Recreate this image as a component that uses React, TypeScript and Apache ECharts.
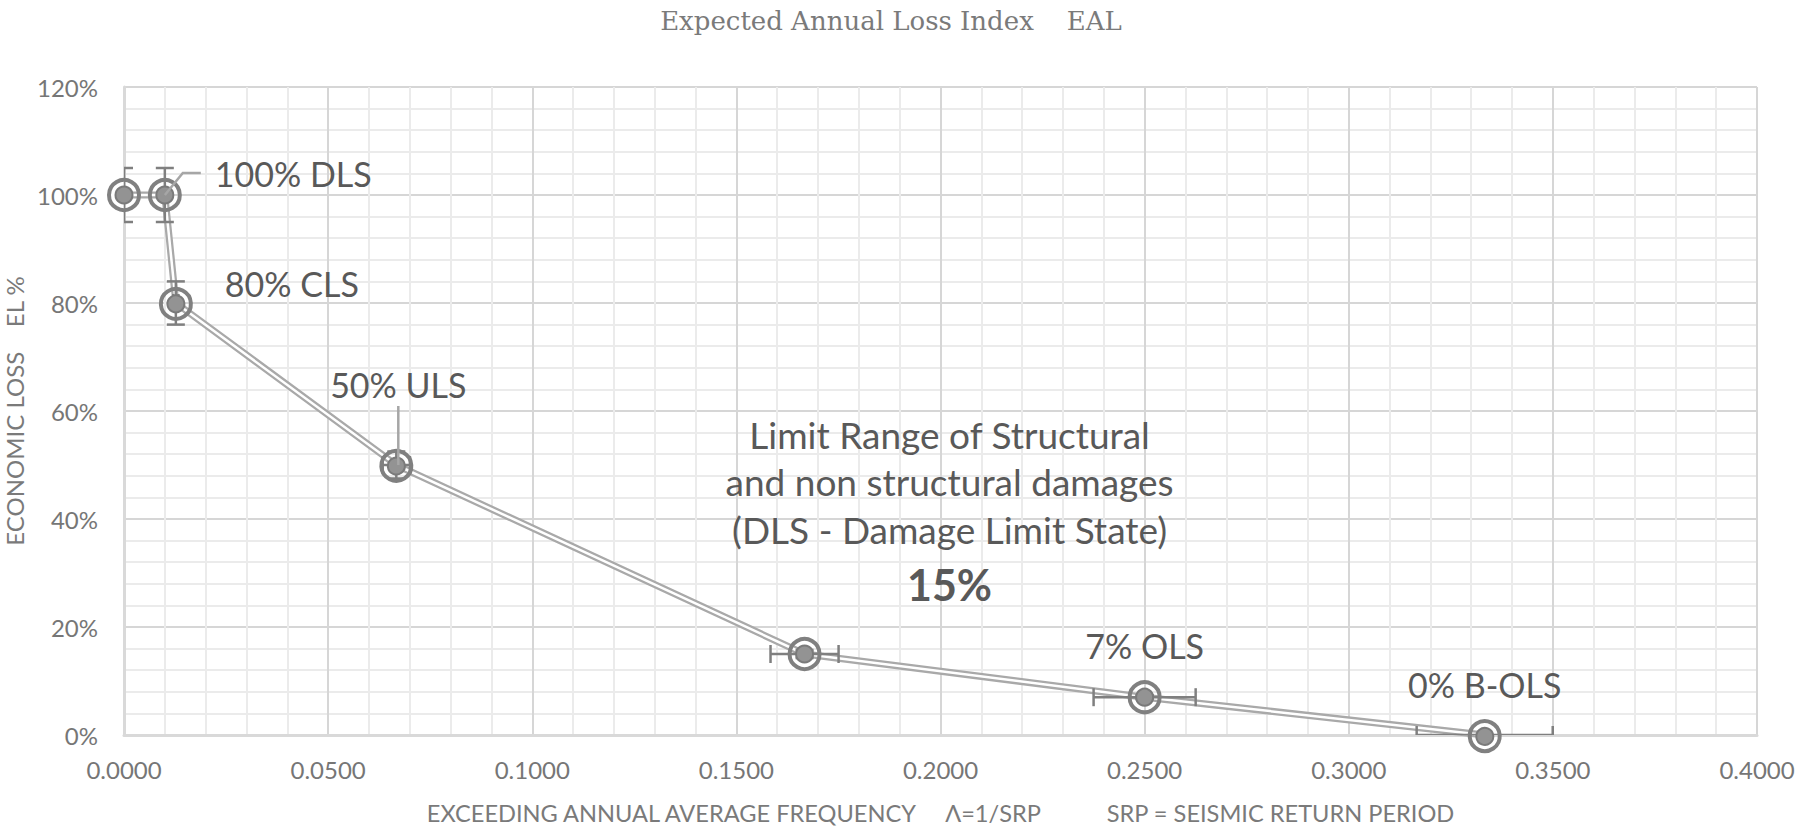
import React, { useEffect, useRef } from "react";
import * as echarts from "echarts";

// ---- data ----
const frequency = [0.0, 0.01, 0.0127, 0.0667, 0.1667, 0.25, 0.3333];
const economicLoss = [1.0, 1.0, 0.8, 0.5, 0.15, 0.07, 0.0];
const errorPercent = 0.05; // 5% error bars on both axes
const pointLabels = ["", "100% DLS", "80% CLS", "50% ULS", "", "7% OLS", "0% B-OLS"];
const noteLines = ["Limit Range of Structural", "and non structural damages", "(DLS - Damage Limit State)"];
const noteValue = "15%";
const noteIndex = 4;
const chartTitle = "Expected Annual Loss Index\u00a0\u00a0\u00a0\u00a0EAL";
const xTitle =
  "EXCEEDING ANNUAL AVERAGE FREQUENCY\u00a0\u00a0\u00a0\u00a0\u00a0\u039B=1/SRP" +
  "\u00a0\u00a0\u00a0\u00a0\u00a0\u00a0\u00a0\u00a0\u00a0\u00a0\u00a0SRP = SEISMIC RETURN PERIOD";
const yTitle = "ECONOMIC LOSS\u00a0\u00a0\u00a0\u00a0EL %";

// ---- label placement (pixel offsets from the point) ----
const labelOffsets: Record<number, { dx: number; dy: number; align: string; leader?: number[][] }> = {
  1: { dx: 50, dy: -22, align: "left", leader: [[0, 0], [18, -22], [36, -22]] },
  2: { dx: 116, dy: -20, align: "center" },
  3: { dx: 2, dy: -81, align: "center", leader: [[2, -59], [2, 0]] },
  5: { dx: 0, dy: -52, align: "center" },
  6: { dx: 0, dy: -51, align: "center" },
};
const noteOffset = { dx: 145, lineDy: [-220, -173, -125], valueDy: -70 };

const SANS = "Lato, 'Noto Sans', sans-serif";
const TEXT_DARK = "#595959";

const points = frequency.map((f, i) => [f, economicLoss[i], i]);

export default function App() {
  const ref = useRef<HTMLDivElement>(null);

  useEffect(() => {
    document.body.style.margin = "0";
    if (!ref.current) return;
    const chart = echarts.init(ref.current, undefined, { renderer: "svg" });

    const option: any = {
      animation: false,
      backgroundColor: "#ffffff",
      textStyle: { fontFamily: SANS },
      graphic: [
        {
          type: "text",
          x: 891,
          y: 21,
          style: {
            text: chartTitle,
            fill: "#7a7a7a",
            fontFamily: "'DejaVu Serif', serif",
            fontSize: 26,
            align: "center",
            verticalAlign: "middle",
          },
        },
      ],
      grid: {
        left: 124,
        right: 39,
        top: 87,
        bottom: 94,
        containLabel: false,
        outerBoundsMode: "none",
      },
      xAxis: {
        type: "value",
        min: 0,
        max: 0.4,
        interval: 0.05,
        name: xTitle,
        nameLocation: "middle",
        nameGap: 66,
        nameTextStyle: { fontFamily: SANS, fontSize: 23.6, color: "#7a7a7a" },
        axisLine: { show: true, lineStyle: { color: "#d9d9d9", width: 3 } },
        axisTick: { show: false },
        axisLabel: {
          margin: 22,
          fontFamily: SANS,
          fontSize: 24,
          color: "#767676",
          formatter: (v: number) => v.toFixed(4),
        },
        splitLine: { show: true, lineStyle: { color: "#d6d6d6", width: 2 } },
        minorTick: { show: false, splitNumber: 5 },
        minorSplitLine: { show: true, lineStyle: { color: "#ebebeb", width: 2 } },
      },
      yAxis: {
        type: "value",
        min: 0,
        max: 1.2,
        interval: 0.2,
        name: yTitle,
        nameLocation: "middle",
        nameGap: 101,
        nameTextStyle: { fontFamily: SANS, fontSize: 24, lineHeight: 18, color: "#7a7a7a" },
        axisLine: { show: true, lineStyle: { color: "#d9d9d9", width: 3 } },
        axisTick: { show: false },
        axisLabel: {
          margin: 26,
          fontFamily: SANS,
          fontSize: 24,
          color: "#767676",
          formatter: (v: number) => Math.round(v * 100) + "%",
        },
        splitLine: { show: true, lineStyle: { color: "#d6d6d6", width: 2 } },
        minorTick: { show: false, splitNumber: 5 },
        minorSplitLine: { show: true, lineStyle: { color: "#ebebeb", width: 2 } },
      },
      series: [
        {
          type: "line",
          data: points.map((p) => [p[0], p[1]]),
          symbol: "none",
          lineStyle: { color: "#a9a9a9", width: 7 },
          z: 2,
        },
        {
          type: "line",
          data: points.map((p) => [p[0], p[1]]),
          symbol: "none",
          lineStyle: { color: "#ffffff", width: 2.5 },
          z: 2,
        },
        {
          type: "custom",
          name: "errorBars",
          clip: true,
          z: 3,
          data: points,
          renderItem: (params: any, api: any) => {
            const x = api.value(0);
            const y = api.value(1);
            const c = api.coord([x, y]);
            const left = api.coord([x * (1 - errorPercent), y]);
            const right = api.coord([x * (1 + errorPercent), y]);
            const top = api.coord([x, y * (1 + errorPercent)]);
            const bottom = api.coord([x, y * (1 - errorPercent)]);
            const cap = 9;
            const gx = params.coordSys.x;
            const st = { stroke: "#7f7f7f", lineWidth: 2.5 };
            const children: any[] = [];
            if (right[0] - left[0] > 1) {
              children.push({ type: "line", shape: { x1: left[0], y1: c[1], x2: right[0], y2: c[1] }, style: st });
              children.push({ type: "line", shape: { x1: left[0], y1: c[1] - cap, x2: left[0], y2: c[1] + cap }, style: st });
              children.push({ type: "line", shape: { x1: right[0], y1: c[1] - cap, x2: right[0], y2: c[1] + cap }, style: st });
            }
            if (bottom[1] - top[1] > 1) {
              const l = Math.max(c[0] - cap, gx);
              children.push({ type: "line", shape: { x1: c[0], y1: top[1], x2: c[0], y2: bottom[1] }, style: st });
              children.push({ type: "line", shape: { x1: l, y1: top[1], x2: c[0] + cap, y2: top[1] }, style: st });
              children.push({ type: "line", shape: { x1: l, y1: bottom[1], x2: c[0] + cap, y2: bottom[1] }, style: st });
            }
            return { type: "group", children };
          },
        },
        {
          type: "custom",
          name: "markers",
          clip: false,
          z: 4,
          data: points,
          renderItem: (params: any, api: any) => {
            const c = api.coord([api.value(0), api.value(1)]);
            return {
              type: "group",
              children: [
                {
                  type: "circle",
                  shape: { cx: c[0], cy: c[1], r: 15 },
                  style: { fill: "none", stroke: "#808080", lineWidth: 4 },
                },
                {
                  type: "circle",
                  shape: { cx: c[0], cy: c[1], r: 8.5 },
                  style: { fill: "#939393", stroke: "#7a7a7a", lineWidth: 2 },
                },
              ],
            };
          },
        },
        {
          type: "custom",
          name: "labels",
          clip: false,
          z: 5,
          data: points,
          renderItem: (params: any, api: any) => {
            const i = api.value(2);
            const c = api.coord([api.value(0), api.value(1)]);
            const children: any[] = [];
            const lo = labelOffsets[i];
            if (lo && pointLabels[i]) {
              if (lo.leader) {
                children.push({
                  type: "polyline",
                  shape: { points: lo.leader.map((q) => [c[0] + q[0], c[1] + q[1]]) },
                  style: { stroke: "#a6a6a6", lineWidth: 2.5, fill: null },
                });
              }
              children.push({
                type: "text",
                x: c[0] + lo.dx,
                y: c[1] + lo.dy,
                style: {
                  text: pointLabels[i],
                  fill: TEXT_DARK,
                  fontFamily: SANS,
                  fontSize: 34,
                  align: lo.align,
                  verticalAlign: "middle",
                },
              });
            }
            if (i === noteIndex) {
              noteLines.forEach((t, k) => {
                children.push({
                  type: "text",
                  x: c[0] + noteOffset.dx,
                  y: c[1] + noteOffset.lineDy[k],
                  style: {
                    text: t,
                    fill: TEXT_DARK,
                    fontFamily: SANS,
                    fontSize: 37,
                    align: "center",
                    verticalAlign: "middle",
                  },
                });
              });
              children.push({
                type: "text",
                x: c[0] + noteOffset.dx,
                y: c[1] + noteOffset.valueDy,
                style: {
                  text: noteValue,
                  fill: TEXT_DARK,
                  fontFamily: SANS,
                  fontWeight: "bold",
                  fontSize: 43,
                  align: "center",
                  verticalAlign: "middle",
                },
              });
            }
            return { type: "group", children };
          },
        },
      ],
    };

    chart.setOption(option);
    return () => chart.dispose();
  }, []);

  return <div ref={ref} style={{ width: "1796px", height: "829px" }} />;
}
